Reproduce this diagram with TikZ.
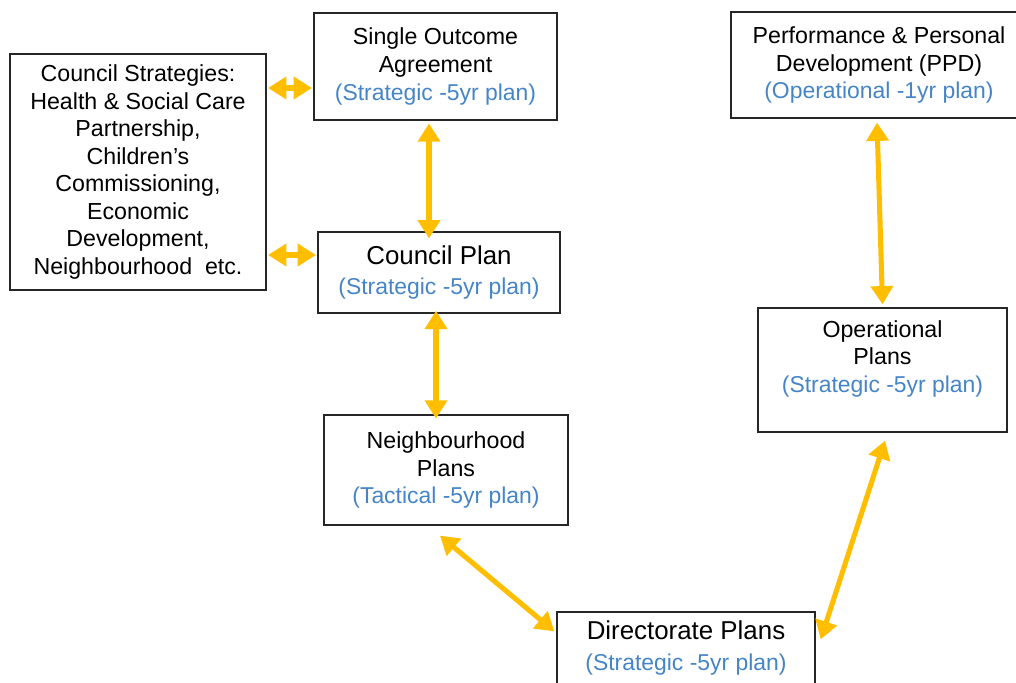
\documentclass[tikz,border=0pt]{standalone}
\usepackage{fontspec}
\setmainfont{Liberation Sans}
\usetikzlibrary{arrows.meta,positioning}

\definecolor{cplan}{rgb}{0.27,0.52,0.78}
\definecolor{clink}{rgb}{1.0,0.75,0.0}
\definecolor{cbox}{rgb}{0.15,0.15,0.15}

\tikzset{
  planbox/.style={draw=cbox,line width=0.9pt,align=center,inner sep=2pt,
    font=\fontsize{16.5}{19.6}\selectfont},
  bigbox/.style={planbox,font=\fontsize{18.4}{21.5}\selectfont},
  link/.style={draw=clink,line width=3.6pt,
    {Triangle[width=15.5pt,length=13pt]}-{Triangle[width=15.5pt,length=13pt]}},
}
\newcommand{\horizon}[1]{{\fontsize{16.3}{19.6}\selectfont\textcolor{cplan}{#1}}}

\begin{document}
\begin{tikzpicture}[x=0.025cm,y=-0.025cm]
%
\useasboundingbox (0,0) rectangle (1016,682);
%
\node[planbox,minimum width=6.4cm,minimum height=5.9cm] (strat) at (138,172)
  {Council Strategies:\\Health \& Social Care\\Partnership,\\Children's\\Commissioning,\\Economic\\Development,\\Neighbourhood\ \ etc.};
\node[planbox,minimum width=6.075cm,minimum height=2.675cm] (soa) at (435.5,66.5)
  {Single Outcome\\Agreement\\\horizon{(Strategic -5yr plan)}};
\node[bigbox,minimum width=6.05cm,minimum height=2.025cm] (cplan) at (439,272.5)
  {Council Plan\\\horizon{(Strategic -5yr plan)}};
\node[planbox,minimum width=6.1cm,minimum height=2.75cm] (nplan) at (446,470)
  {Neighbourhood\\Plans\\\horizon{(Tactical -5yr plan)}};
\node[bigbox,minimum width=6.45cm,minimum height=1.8cm] (dplan) at (686,648)
  {Directorate Plans\\\horizon{(Strategic -5yr plan)}};
\node[planbox,minimum width=6.225cm,minimum height=3.1cm] (oplan) at (882.5,370)
  {Operational\\Plans\\\horizon{(Strategic -5yr plan)}\\[0pt]};
\node[planbox,minimum width=7.4cm,minimum height=2.65cm] (ppd) at (879,65)
  {Performance \& Personal\\Development (PPD)\\\horizon{(Operational -1yr plan)}};
%
\draw[link,shorten <=1pt,shorten >=1pt] (strat.east |- 0,88) -- (soa.west |- 0,88);
\draw[link,shorten <=1pt,shorten >=1pt] (strat.east |- 0,255) -- (cplan.west |- 0,255);
\draw[link] ([yshift=-2]soa.south -| 429,0) -- ([yshift=-5]cplan.north -| 429,0);
\draw[link] ([yshift=2]cplan.south -| 436,0) -- ([yshift=-3]nplan.north -| 436,0);
\draw[link] ([shift={(-6,10)}]nplan.south) -- ([shift={(-2,20)}]dplan.north west);
\draw[link] ([shift={(5,28)}]dplan.north east) -- ([shift={(2.5,8)}]oplan.south);
\draw[link] ([shift={(0,-3)}]oplan.north) -- ([shift={(-2,4)}]ppd.south);
%
\end{tikzpicture}
\end{document}
